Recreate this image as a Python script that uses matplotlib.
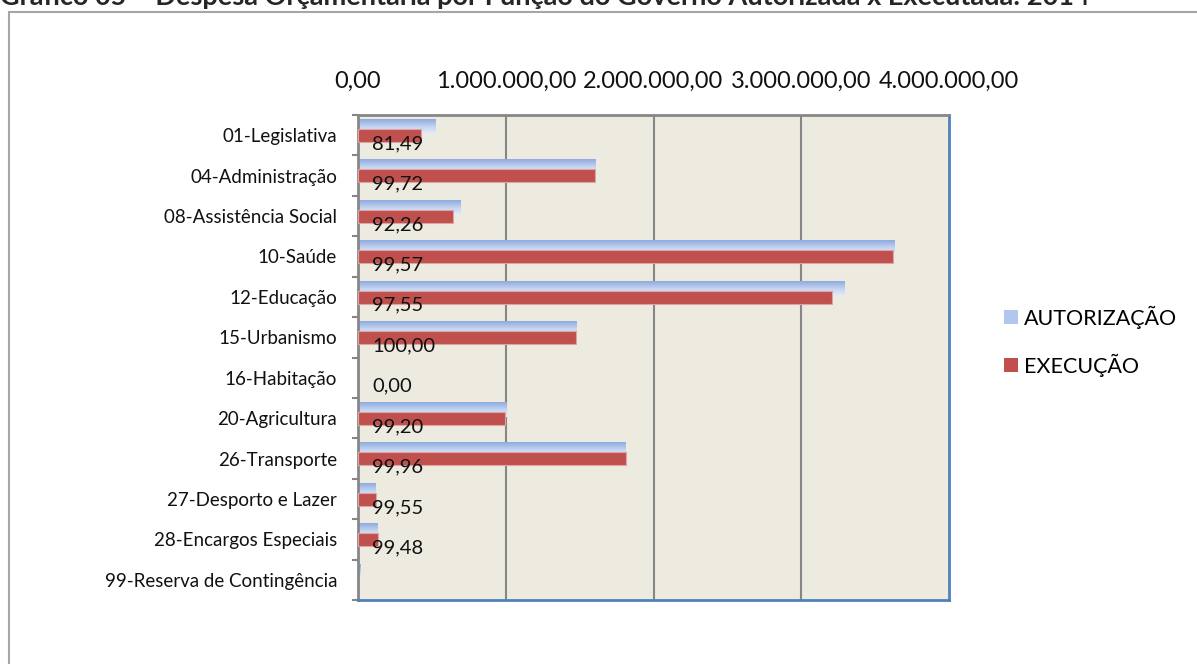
import matplotlib
matplotlib.use("Agg")
import matplotlib.pyplot as plt
import numpy as np
from matplotlib.patches import Patch, Rectangle
from matplotlib.colors import LinearSegmentedColormap

plt.rcParams['font.family'] = ['Lato', 'DejaVu Sans']

categories = ["01-Legislativa", "04-Administração", "08-Assistência Social", "10-Saúde",
              "12-Educação", "15-Urbanismo", "16-Habitação", "20-Agricultura",
              "26-Transporte", "27-Desporto e Lazer", "28-Encargos Especiais",
              "99-Reserva de Contingência"]
autorizacao = [525000, 1609000, 696000, 3634000, 3290000, 1477000, 2000, 1005000,
               1813000, 121000, 134000, 20000]
execucao = [427800, 1604500, 642000, 3618000, 3209000, 1477000, 0, 997000,
            1812000, 120500, 133300, 0]
pct_labels = ["81,49", "99,72", "92,26", "99,57", "97,55", "100,00", "0,00", "99,20",
              "99,96", "99,55", "99,48", ""]
xticks = [0, 1000000, 2000000, 3000000, 4000000]
xtick_labels = ["0,00", "1.000.000,00", "2.000.000,00", "3.000.000,00", "4.000.000,00"]
series_names = ["AUTORIZAÇÃO", "EXECUÇÃO"]
title = "Gráfico 05 – Despesa Orçamentária por Função do Governo Autorizada x Executada: 2014"

W, H = 1197, 664
fig = plt.figure(figsize=(W / 100, H / 100), dpi=100)

# outer border of the chart object (extends past right/bottom edges)
fig.patches.append(Rectangle((9 / W, -0.2), 1.5, 1 - 12 / H + 0.2, transform=fig.transFigure,
                             fill=False, edgecolor='#A6A6A6', linewidth=1.5))

# title (cropped at the top edge, as in the source image)
fig.text(0.0, 1 - 5 / H, title, fontsize=19.5, fontweight='bold', va='baseline', ha='left',
         color='#262626')

ax = fig.add_axes([358 / W, 1 - 600 / H, (949 - 358) / W, (600 - 115) / H])
ax.set_facecolor('#EDEBE0')

n = len(categories)
y = np.arange(n)
blue_off, blue_h = -0.203, 0.347
red_off, red_h = 0.007, 0.32

for gx in xticks[1:-1]:
    ax.axvline(gx, color='#868686', linewidth=1.5, zorder=1)

cmap = LinearSegmentedColormap.from_list('bl', ['#8EAADF', '#C3D3F0', '#E6EDF9'])
grad = np.linspace(0, 1, 64).reshape(-1, 1)
bbars = ax.barh(y + blue_off, autorizacao, height=blue_h, color='none', edgecolor='none', zorder=2)
for b in bbars:
    x0, yb, w, h = b.get_x(), b.get_y(), b.get_width(), b.get_height()
    if w <= 0:
        continue
    ax.imshow(grad, extent=[x0, x0 + w, yb + h, yb], aspect='auto', cmap=cmap,
              zorder=2, interpolation='bilinear')
ax.set_xlim(0, 4000000)
ax.set_ylim(n - 0.5, -0.5)

red_edges = ['#DDA5A3' if v > 0 else 'none' for v in execucao]
ax.barh(y + red_off, execucao, height=red_h, color='#C0504D', edgecolor=red_edges,
        linewidth=0.8, zorder=3)

for i, lab in enumerate(pct_labels):
    if lab:
        ax.annotate(lab, xy=(0, i + 0.21), xytext=(10, 0), textcoords='offset points',
                    va='center', ha='left', fontsize=14.5, color='#111111', zorder=5)

ax.xaxis.tick_top()
ax.set_xticks(xticks)
ax.set_xticklabels(xtick_labels, fontsize=17, color='#111111')
ax.tick_params(axis='x', length=0, pad=17)

ax.set_yticks(y)
ax.set_yticklabels(categories, fontsize=13.5, color='#111111')
ax.tick_params(axis='y', which='major', length=0, pad=15)
ax.set_yticks(np.arange(-0.5, n, 1), minor=True)
ax.tick_params(axis='y', which='minor', length=4.5, width=1.5, color='#868686', direction='out')

for s in ['top', 'left']:
    ax.spines[s].set_color('#878787')
    ax.spines[s].set_linewidth(2)
for s in ['bottom', 'right']:
    ax.spines[s].set_color('#4F81BD')
    ax.spines[s].set_linewidth(2)

handles = [Patch(facecolor='#B3C7EC', edgecolor='none'), Patch(facecolor='#C0504D', edgecolor='none')]
fig.legend(handles, series_names, loc='center left', bbox_to_anchor=(993 / W, 1 - 341 / H),
           frameon=False, fontsize=15.5, handlelength=0.65, handleheight=0.65,
           handletextpad=0.3, labelspacing=1.15, borderpad=0)

fig.savefig('out.png', dpi=100)
